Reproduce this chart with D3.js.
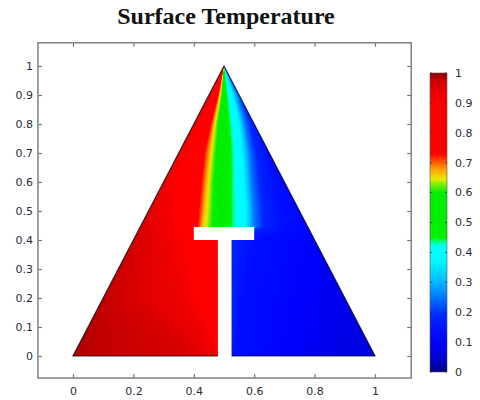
<!DOCTYPE html>
<html>
<head>
<meta charset="utf-8">
<script src="https://cdn.jsdelivr.net/npm/d3@7"></script>
<style>
  body { margin: 0; background: #fff; }
</style>
</head>
<body>
<div id="viz"></div>
<script>
var title = 'Surface Temperature';

var xTicks = [0, 0.2, 0.4, 0.6, 0.8, 1];
var yTicks = [0, 0.1, 0.2, 0.3, 0.4, 0.5, 0.6, 0.7, 0.8, 0.9, 1];
var barTicks = [0, 0.1, 0.2, 0.3, 0.4, 0.5, 0.6, 0.7, 0.8, 0.9, 1];

// geometry (model units)
var triangle = [[0, 0], [1, 0], [0.5, 1]];
var tShape = [[0.48, 0], [0.525, 0], [0.525, 0.4], [0.6, 0.4], [0.6, 0.445],
              [0.4, 0.445], [0.4, 0.4], [0.48, 0.4]];

// temperature field:
// heights where the isotherm positions were read
var levels = [0, 0.2, 0.4, 0.445, 0.5, 0.6, 0.7, 0.8, 0.9, 1];
// isotherm values, left to right
var isoValues = [0.985, 0.96, 0.93, 0.88, 0.72, 0.66, 0.63, 0.44, 0.37, 0.25, 0.18, 0.13, 0.07];
// x position of each isotherm at each level
var isoX = [
  [0.03, 0.07, 0.12, 0.13, 0.14, 0.15, 0.2, 0.25, 0.3, 0.35],
  [0.4, 0.2, 0.22, 0.22, 0.23, 0.25, 0.3, 0.35, 0.4, 0.45],
  [0.475, 0.36, 0.31, 0.3, 0.3, 0.3, 0.35, 0.4, 0.45, 0.48],
  [0.478, 0.46, 0.42, 0.38, 0.37, 0.38, 0.4, 0.435, 0.47, 0.495],
  [0.48, 0.48, 0.48, 0.415, 0.42, 0.428, 0.438, 0.458, 0.482, 0.5],
  [0.485, 0.485, 0.485, 0.43, 0.437, 0.445, 0.455, 0.468, 0.486, 0.5],
  [0.49, 0.49, 0.49, 0.448, 0.452, 0.456, 0.464, 0.474, 0.49, 0.5],
  [0.505, 0.505, 0.505, 0.528, 0.528, 0.527, 0.527, 0.52, 0.51, 0.5],
  [0.51, 0.51, 0.51, 0.572, 0.572, 0.566, 0.56, 0.55, 0.528, 0.5],
  [0.515, 0.515, 0.515, 0.6, 0.6, 0.592, 0.585, 0.57, 0.545, 0.5],
  [0.52, 0.52, 0.52, 0.635, 0.632, 0.622, 0.61, 0.59, 0.56, 0.5],
  [0.53, 0.56, 0.6, 0.7, 0.69, 0.67, 0.645, 0.615, 0.575, 0.5],
  [0.9, 0.95, 1.0, 1.05, 1.05, 1.1, 1.1, 1.1, 1.1, 1.1]
];

// colour map
var cmapStops = [0, 0.04, 0.1, 0.19, 0.25, 0.3, 0.37, 0.42, 0.435, 0.45, 0.6, 0.625,
                 0.645, 0.675, 0.705, 0.73, 0.9, 0.95, 0.98, 1];
var cmapColors = ['#000080', '#0000c8', '#0000ff', '#0028ff', '#0078ff', '#00b8ff',
                  '#00f8ff', '#00ffff', '#00ff90', '#00f000', '#00ee00', '#70f000',
                  '#e8e800', '#ffa800', '#ff5000', '#ff0000', '#ff0000', '#e40000',
                  '#c40000', '#8c0000'];

var width = 480, height = 400;

var x = d3.scaleLinear().domain([0, 1]).range([73, 375]),
    y = d3.scaleLinear().domain([0, 1]).range([356, 66]),
    cb = d3.scaleLinear().domain([0, 1]).range([372, 73]),
    color = d3.scaleLinear().domain(cmapStops).range(cmapColors).clamp(true);

var frameX = [-0.116, 1.12], frameY = [-0.076, 1.08];

var svg = d3.select('#viz').append('svg')
  .attr('width', width)
  .attr('height', height)
  .style('font-family', '"DejaVu Sans", sans-serif');

var defs = svg.append('defs');

var line = d3.line().x(function(d) { return x(d[0]); }).y(function(d) { return y(d[1]); });

defs.append('clipPath').attr('id', 'tri')
  .append('path')
  .attr('d', line(triangle) + 'Z');

// raster of the field
var x0 = Math.round(x(0)), x1 = Math.round(x(1)),
    y0 = Math.round(y(1)), y1 = Math.round(y(0)),
    cw = x1 - x0, ch = y1 - y0;

var isoScales = isoX.map(function(row) {
  return d3.scaleLinear().domain(levels).range(row);
});

var canvas = document.createElement('canvas');
canvas.width = cw;
canvas.height = ch;
var ctx = canvas.getContext('2d');
var img = ctx.createImageData(cw, ch);

for (var j = 0; j < ch; j++) {
  var yd = y.invert(y0 + j + 0.5);
  var xs = isoScales.map(function(s) { return s(yd); });
  var rowT = d3.scaleLinear().domain(xs).range(isoValues).clamp(true);
  for (var i = 0; i < cw; i++) {
    var t = rowT(x.invert(x0 + i + 0.5));
    var c = d3.rgb(color(t));
    var k = (j * cw + i) * 4;
    img.data[k] = c.r;
    img.data[k + 1] = c.g;
    img.data[k + 2] = c.b;
    img.data[k + 3] = 255;
  }
}
ctx.putImageData(img, 0, 0);

svg.append('image')
  .attr('href', canvas.toDataURL())
  .attr('x', x0)
  .attr('y', y0)
  .attr('width', cw)
  .attr('height', ch)
  .attr('clip-path', 'url(#tri)');

// outline of the domain, leaving the stem gap open
svg.append('path')
  .attr('d', line([[0.48, 0], [0, 0], [0.5, 1], [1, 0], [0.525, 0]]))
  .attr('fill', 'none')
  .attr('stroke', '#000')
  .attr('stroke-opacity', 0.75)
  .attr('stroke-width', 1.2);

svg.append('path')
  .attr('d', line(tShape) + 'Z')
  .attr('fill', '#fff');

// frame and ticks
svg.append('g')
  .attr('transform', 'translate(0,' + y(frameY[0]) + ')')
  .call(d3.axisBottom(x).tickValues(xTicks).tickSize(-4).tickSizeOuter(0).tickPadding(9)
    .tickFormat(d3.format('')))
  .call(function(g) { g.select('.domain').remove(); });

svg.append('g')
  .attr('transform', 'translate(0,' + y(frameY[1]) + ')')
  .call(d3.axisTop(x).tickValues(xTicks).tickSize(-4).tickSizeOuter(0).tickFormat(''))
  .call(function(g) { g.select('.domain').remove(); });

svg.append('g')
  .attr('transform', 'translate(' + x(frameX[0]) + ',0)')
  .call(d3.axisLeft(y).tickValues(yTicks).tickSize(-4).tickSizeOuter(0).tickPadding(5)
    .tickFormat(d3.format('')))
  .call(function(g) { g.select('.domain').remove(); });

svg.append('g')
  .attr('transform', 'translate(' + x(frameX[1]) + ',0)')
  .call(d3.axisRight(y).tickValues(yTicks).tickSize(-4).tickSizeOuter(0).tickFormat(''))
  .call(function(g) { g.select('.domain').remove(); });

svg.selectAll('.tick line').attr('stroke', '#777').attr('stroke-width', 1.2);
svg.selectAll('.tick text').attr('fill', '#2a2a3a').attr('font-size', 11)
  .attr('font-family', '"DejaVu Sans", sans-serif');

svg.append('rect')
  .attr('x', x(frameX[0]))
  .attr('y', y(frameY[1]))
  .attr('width', x(frameX[1]) - x(frameX[0]))
  .attr('height', y(frameY[0]) - y(frameY[1]))
  .attr('fill', 'none')
  .attr('stroke', '#808080')
  .attr('stroke-width', 1.5);

// colour bar
var grad = defs.append('linearGradient')
  .attr('id', 'cbar')
  .attr('x1', 0).attr('y1', 1).attr('x2', 0).attr('y2', 0);
grad.selectAll('stop').data(cmapStops).enter().append('stop')
  .attr('offset', function(d) { return d; })
  .attr('stop-color', function(d, i) { return cmapColors[i]; });

var barX = 430, barW = 17;

svg.append('rect')
  .attr('x', barX)
  .attr('y', cb(1))
  .attr('width', barW)
  .attr('height', cb(0) - cb(1))
  .attr('fill', 'url(#cbar)')
  .attr('stroke', '#555')
  .attr('stroke-width', 0.6);

var cbTicks = svg.append('g').selectAll('g').data(barTicks).enter().append('g')
  .attr('transform', function(d) { return 'translate(0,' + cb(d) + ')'; });

cbTicks.append('line')
  .attr('x1', barX).attr('x2', barX + 2)
  .attr('stroke', '#222').attr('stroke-opacity', 0.6);
cbTicks.append('line')
  .attr('x1', barX + barW - 2).attr('x2', barX + barW)
  .attr('stroke', '#222').attr('stroke-opacity', 0.6);
cbTicks.append('text')
  .attr('x', 455)
  .attr('dy', '0.35em')
  .attr('font-size', 11)
  .attr('fill', '#2a2a3a')
  .text(function(d) { return d3.format('')(d); });

// title
svg.append('text')
  .attr('x', 226)
  .attr('y', 24)
  .attr('text-anchor', 'middle')
  .attr('font-family', '"Liberation Serif", "Times New Roman", serif')
  .attr('font-weight', 'bold')
  .attr('font-size', 24)
  .attr('fill', '#111')
  .text(title);
</script>
</body>
</html>
